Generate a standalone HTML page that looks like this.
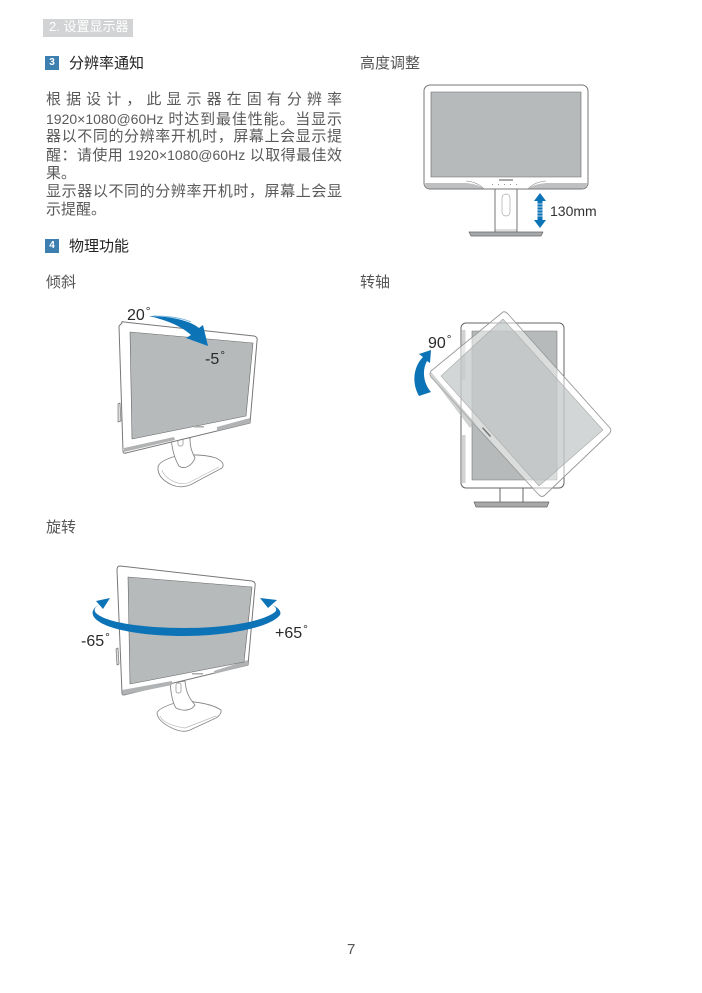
<!DOCTYPE html>
<html><head><meta charset="utf-8"><style>
html,body{margin:0;padding:0;background:#fff}
#p{position:relative;width:702px;height:993px;overflow:hidden;font-family:"Liberation Sans","Noto Sans CJK SC",sans-serif;color:#4a4a4a}
#p svg{position:absolute;left:0;top:0}
.t{position:absolute;white-space:nowrap;line-height:18px}
.l{position:absolute;left:46px;width:296px;font-size:15px;line-height:18px;height:18px;text-align:justify;text-align-last:justify;color:#5a5a5a}
.l i{font-style:normal;font-size:14px}
.h{font-size:15px;color:#555}
.s{font-size:15px;color:#222}
.n{position:absolute;left:45px;width:14px;height:14px;background:#3d80b0;color:#fff;font-size:10px;font-weight:bold;line-height:14px;text-align:center}
.d{position:absolute;white-space:nowrap;font-size:16px;line-height:18px;color:#2a2a2a}
.d span{font-size:12px;vertical-align:5px;margin-left:1px}
</style></head><body><div id="p">
<div style="position:absolute;left:43px;top:19px;width:90px;height:18px;background:#d2d3d4"></div>
<div class="t" style="left:49px;top:18px;font-size:13px;line-height:18px;color:#fff">2. 设置显示器</div>
<div class="n" style="top:56px">3</div>
<div class="t s" style="left:69px;top:55px">分辨率通知</div>
<div class="l" style="top:91px">根 据 设 计 ， 此 显 示 器 在 固 有 分 辨 率</div>
<div class="l" style="top:110px"><i>1920×1080@60Hz</i> 时达到最佳性能。当显示</div>
<div class="l" style="top:128px">器以不同的分辨率开机时，屏幕上会显示提</div>
<div class="l" style="top:146px">醒：请使用 <i>1920×1080@60Hz</i> 以取得最佳效</div>
<div class="t" style="left:46px;top:165px;font-size:15px;color:#5a5a5a">果。</div>
<div class="l" style="top:183px">显示器以不同的分辨率开机时，屏幕上会显</div>
<div class="t" style="left:46px;top:201px;font-size:15px;color:#5a5a5a">示提醒。</div>
<div class="n" style="top:239px">4</div>
<div class="t s" style="left:69px;top:238px">物理功能</div>
<div class="t h" style="left:46px;top:274px">倾斜</div>
<div class="t h" style="left:46px;top:519px">旋转</div>
<div class="t h" style="left:360px;top:55px">高度调整</div>
<div class="t h" style="left:360px;top:274px">转轴</div>

<svg width="702" height="993" viewBox="0 0 702 993" fill="none" stroke-linejoin="round">
<!-- height -->
<g>
<rect x="495" y="189" width="22" height="43" fill="#fff" stroke="#666" stroke-width=".9"/>
<rect x="502" y="194" width="8" height="22" rx="4" fill="#fff" stroke="#aaa" stroke-width=".7"/>
<rect x="495.500" y="229" width="21" height="3" fill="#ddd"/>
<path d="M469 232H543L541 236H471Z" fill="#a6a8a9" stroke="#666" stroke-width=".7"/>
<rect x="424" y="85" width="164" height="104" rx="6" fill="#fff" stroke="#777" stroke-width="1"/>
<rect x="431" y="92" width="150" height="85" fill="#b6babb" stroke="#666" stroke-width=".6"/>
<path d="M425 183H466Q478 184 484 188.500H430Q425 188 425 183Z" fill="#bdbfc0"/>
<path d="M587 183H546Q534 184 528 188.500H582Q587 188 587 183Z" fill="#bdbfc0"/>
<path d="M484 189Q478 182 466 181M528 189Q534 182 546 181" stroke="#888" stroke-width=".6"/>
<rect x="499" y="179" width="14" height="2" fill="#aaa"/>
<path d="M492 184.500h1M498 184.500h1M504 184.500h1M510 184.500h1M516 184.500h1" stroke="#999"/>
<path d="M540 193L546 201H542.500V220H546L540 228L534 220H537.500V201H534Z" fill="#0d73b7"/>
<path d="M537.500 204H542.500M537.500 207H542.500M537.500 210H542.500M537.500 213H542.500M537.500 216H542.500" stroke="#fff" stroke-width="1" opacity=".7"/>
</g>
<!-- tilt -->
<g>
<path d="M158 467Q159 461 176 456Q200 453 216 458Q226 463 222 468L192 484Q182 489 172 485Q157 478 158 467Z" fill="#fff" stroke="#888" stroke-width=".9"/>
<path d="M162 470Q165 479 178 483Q186 485 192 481L219 467" stroke="#bbb" stroke-width=".7"/>
<path d="M171 438C172 448 174 458 179 466C184 470 192 466 195 458C191 450 190 446 190 438Z" fill="#fff" stroke="#888" stroke-width=".9"/>
<rect x="178" y="438" width="5" height="8" rx="2" fill="#fff" stroke="#888" stroke-width=".7"/>
<path d="M122 323Q121 321 124 322L254 336Q258 337 257 341L250 423L126 453Q123 454 123 451L119 326Z" fill="#fff" stroke="#777" stroke-width="1"/>
<path d="M124 448L174 437L175 440L124 452Z" fill="#b0b2b3"/>
<path d="M217 427L250 418L250 423L217 431Z" fill="#b0b2b3"/>
<path d="M130 332L253 343L246 416L132 439Z" fill="#b6babb" stroke="#666" stroke-width=".6"/>
<rect x="194" y="426" width="10" height="1.500" fill="#aaa"/>
<path d="M118 404L120 403L121 421L118 422Z" fill="#ddd" stroke="#777" stroke-width=".7"/>
<path d="M149 316C165 316 188 319 199 328L203 325L208 346L186 338L191 335C180 325 165 320 149 316Z" fill="#0d73b7"/>
<path d="M153 316C170 316 182 318 191 322" stroke="#7fb8dd" stroke-width="1"/>
</g>
<!-- rotate -->
<g>
<rect x="500" y="488" width="23" height="15" fill="#fff" stroke="#666"/>
<path d="M474 502H549L547 507H476Z" fill="#a6a8a9" stroke="#666" stroke-width=".7"/>
<rect x="461" y="323" width="103" height="165" rx="5" fill="#fff" stroke="#666" stroke-width="1"/>
<rect x="472" y="331" width="85" height="149" fill="#b6babb" stroke="#777" stroke-width=".6"/>
<rect x="462" y="330" width="3.500" height="50" fill="#d0d2d3"/>
<rect x="462" y="435" width="3.500" height="48" fill="#d0d2d3"/>
<path d="M503 312Q505 311 508 314L610 428Q612 431 609 434L545 495Q542 498 539 495L431 377Q429 374 431 371Z" fill="#fff" fill-opacity=".5" stroke="#999" stroke-width=".9"/>
<path d="M503 319L603 430L539 486L441 376Z" fill="#b6babb" fill-opacity=".6" stroke="#aaa" stroke-width=".6"/>
<path d="M430 375L431 372L475 423L470 428Z" fill="#b0b2b3" fill-opacity=".6"/>
<rect x="480" y="432" width="12" height="1.500" transform="rotate(48 487 433)" fill="#777"/>
<path d="M419 396C411 382 414 366 423 357L419 354L431 350L430 363L427 361C422 370 423 383 431 392Z" fill="#0d73b7"/>
</g>
<!-- swivel -->
<g>
<path d="M157 713Q158 708 178 702Q188 699 194 702Q212 704 221 710Q222 714 216 718L190 730Q184 733 174 729Q158 722 157 713Z" fill="#fff" stroke="#888" stroke-width=".9"/>
<path d="M160 716Q164 725 185 728L216 716" stroke="#bbb" stroke-width=".7"/>
<path d="M170 683C171 692 172 702 176 708C184 712 192 710 195 705C189 698 186 692 185 681Z" fill="#fff" stroke="#888" stroke-width=".9"/>
<rect x="176" y="683" width="5" height="10" rx="2" fill="#fff" stroke="#888" stroke-width=".7"/>
<path d="M120 566L252 581Q256 582 255 586L248 665L124 695Q122 695 122 693L117 570Q117 566 120 566Z" fill="#fff" stroke="#777" stroke-width="1"/>
<path d="M122 690L172 681L172 685L123 695Z" fill="#b0b2b3"/>
<path d="M214 671L248 660L248 665L214 674Z" fill="#b0b2b3"/>
<path d="M128 577L252 587L244 662L130 684Z" fill="#b6babb" stroke="#666" stroke-width=".6"/>
<rect x="192" y="673" width="11" height="1.500" fill="#aaa"/>
<path d="M116 649L118 648L119 664L117 665Z" fill="#ddd" stroke="#777" stroke-width=".7"/>
<path d="M103 603C95 606 93 610 96 613C106 623 145 628 185 628C225 628 262 622 275 612C278 609 275 605 268 603C277 606 282 611 280 615C270 628 225 636 185 636C145 636 103 630 94 617C90 611 95 606 103 603Z" fill="#0d73b7"/>
<path d="M110 598L96 601L103 609Z" fill="#0d73b7"/>
<path d="M260 598L277 600L268 608Z" fill="#0d73b7"/>
</g>
</svg>
<div class="t" style="left:550px;top:202px;font-size:14px;color:#333">130mm</div>
<div class="d" style="left:127px;top:302px">20<span>°</span></div>
<div class="d" style="left:205px;top:346px">-5<span>°</span></div>
<div class="d" style="left:428px;top:330px">90<span>°</span></div>
<div class="d" style="left:81px;top:628px">-65<span>°</span></div>
<div class="d" style="left:275px;top:620px">+65<span>°</span></div>
<div class="t" style="left:347px;top:941px;font-size:15px;color:#555">7</div>
</div></body></html>
